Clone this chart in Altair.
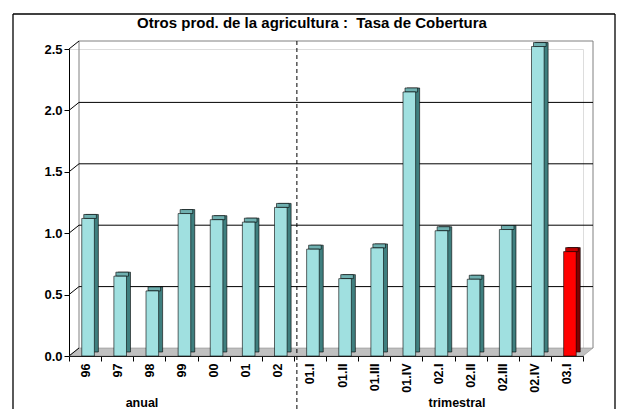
import altair as alt
import pandas as pd

categories = ["96", "97", "98", "99", "00", "01", "02",
              "01.I", "01.II", "01.III", "01.IV",
              "02.I", "02.II", "02.III", "02.IV", "03.I"]
values = [1.12, 0.65, 0.53, 1.16, 1.11, 1.09, 1.21,
          0.87, 0.63, 0.88, 2.15,
          1.02, 0.625, 1.03, 2.52, 0.85]
highlight = "03.I"
y_ticks = [0.0, 0.5, 1.0, 1.5, 2.0, 2.5]
grid_vals = [0.5, 1.0, 1.5, 2.0]
title_text = "Otros prod. de la agricultura :\u00a0 Tasa de Cobertura"
group_labels = ["anual", "trimestral"]

FONT = "Liberation Sans"
W, H = 514, 307
DX, DY = 10, 8  # back-wall offset

df = pd.DataFrame({"cat": categories, "val": values})

x_axis = alt.Axis(labelAngle=270, labelFont=FONT, labelFontSize=12.5,
                  labelFontWeight="bold", labelColor="black",
                  tickBand="extent", tickSize=5, tickColor="black",
                  domainColor="black", labelPadding=2, grid=False, title=None)
x_scale = alt.Scale(paddingInner=0, paddingOuter=0)
x_enc = alt.X("cat:N", sort=categories, title=None, scale=x_scale, axis=x_axis)

y_scale = alt.Scale(domain=[0, 2.5], nice=False, zero=True)
y_axis = alt.Axis(values=y_ticks, format=".1f", labelFont=FONT,
                  labelFontSize=13, labelFontWeight="bold",
                  labelColor="black", tickSize=5, tickColor="black",
                  domainColor="black", labelPadding=2, grid=False, title=None)
y_enc = alt.Y("val:Q", scale=y_scale, title=None, axis=y_axis)

is_hl = alt.datum.cat == highlight

# floor (parallelogram) as a custom symbol
r = (W + DX) / 2
hy = (DY / 2) / r
floor_path = (f"M -1 {hy:.5f} L {1 - DX / r:.5f} {hy:.5f} L 1 {-hy:.5f} "
              f"L {-1 + DX / r:.5f} {-hy:.5f} Z")
floor = alt.Chart(pd.DataFrame({"k": [0]})).mark_point(
    shape=floor_path, filled=True, fill="#c0c0c0", stroke="#808080",
    strokeWidth=0.5, opacity=1
).encode(x=alt.value(r), y=alt.value(H - DY / 2), size=alt.value((2 * r) ** 2))

# back wall edges
wall = alt.Chart(pd.DataFrame({"k": [0]})).mark_rule(color="#808080", strokeWidth=1)
wall_left = wall.encode(x=alt.value(DX), y=alt.value(-DY), y2=alt.value(H - DY))
wall_right = wall.encode(x=alt.value(W + DX), y=alt.value(-DY), y2=alt.value(H - DY))
wall_top = wall.encode(x=alt.value(DX), x2=alt.value(W + DX), y=alt.value(-DY))

gdf = pd.DataFrame({"val": grid_vals})
grid = alt.Chart(gdf).mark_rule(color="black", strokeWidth=1, yOffset=-DY).encode(
    y=y_enc, x=alt.value(DX), x2=alt.value(W + DX))

tdf = pd.DataFrame({"val": y_ticks})
diag = alt.Chart(tdf).mark_rule(color="black", strokeWidth=1, y2Offset=-DY).encode(
    y=y_enc, y2=alt.Y2("val:Q"), x=alt.value(0), x2=alt.value(DX))

# bars: side/back, top, front
side = alt.Chart(df).mark_bar(width=12.6, xOffset=7, yOffset=-4, y2Offset=-4,
                              stroke="black", strokeWidth=0.6).encode(
    x=x_enc, y=y_enc,
    color=alt.condition(is_hl, alt.value("#800000"), alt.value("#3f7f7f")))
top = alt.Chart(df).mark_bar(width=12.6, xOffset=5, yOffset=-4,
                             stroke="black", strokeWidth=0.6).encode(
    x=x_enc, y=y_enc, y2=alt.Y2("val:Q"),
    color=alt.condition(is_hl, alt.value("#c00000"), alt.value("#6fb0b0")))
front = alt.Chart(df).mark_bar(width=12.6, xOffset=3,
                               stroke="black", strokeWidth=0.6).encode(
    x=x_enc, y=y_enc,
    color=alt.condition(is_hl, alt.value("#ff0000"), alt.value("#a0e0e0")))

# dashed separator
sep = alt.Chart(pd.DataFrame({"cat": ["01.I"]})).mark_rule(
    color="black", strokeDash=[4, 3], strokeWidth=1, xOffset=3).encode(
    x=alt.X("cat:N", sort=categories, bandPosition=0, title=None,
            scale=x_scale, axis=x_axis),
    y=alt.value(-DY), y2=alt.value(H + 120))

# title text
title = alt.Chart(pd.DataFrame({"t": [title_text]})).mark_text(
    font=FONT, fontSize=15, fontWeight="bold", color="black",
    align="center", baseline="alphabetic").encode(
    text="t:N", x=alt.value(243), y=alt.value(-21))


def group_label(txt, px):
    return alt.Chart(pd.DataFrame({"t": [txt]})).mark_text(
        font=FONT, fontSize=12.5, fontWeight="bold", color="black",
        align="center", baseline="alphabetic").encode(
        text="t:N", x=alt.value(px), y=alt.value(358))


glab1 = group_label(group_labels[0], 73)
glab2 = group_label(group_labels[1], 388)

# outer border (three edges, bottom is cut off)
BT = -35
bline = alt.Chart(pd.DataFrame({"k": [0]})).mark_rule(color="black", strokeWidth=1.3)
b_top = bline.encode(x=alt.value(-56), x2=alt.value(546), y=alt.value(BT))
b_left = bline.encode(x=alt.value(-56), y=alt.value(BT), y2=alt.value(420))
b_right = bline.encode(x=alt.value(546), y=alt.value(BT), y2=alt.value(420))

chart = alt.layer(
    b_top, b_left, b_right, floor, wall_left, wall_right, wall_top, grid, diag,
    side, top, front, sep, title, glab1, glab2
).properties(
    width=W, height=H,
    autosize=alt.AutoSizeParams(type="none"),
    padding={"left": 61, "top": 41, "right": 33, "bottom": 53},
).configure_view(stroke=None).configure(background="white")

chart.save("out.html", embed_options={"renderer": "svg", "actions": False})
